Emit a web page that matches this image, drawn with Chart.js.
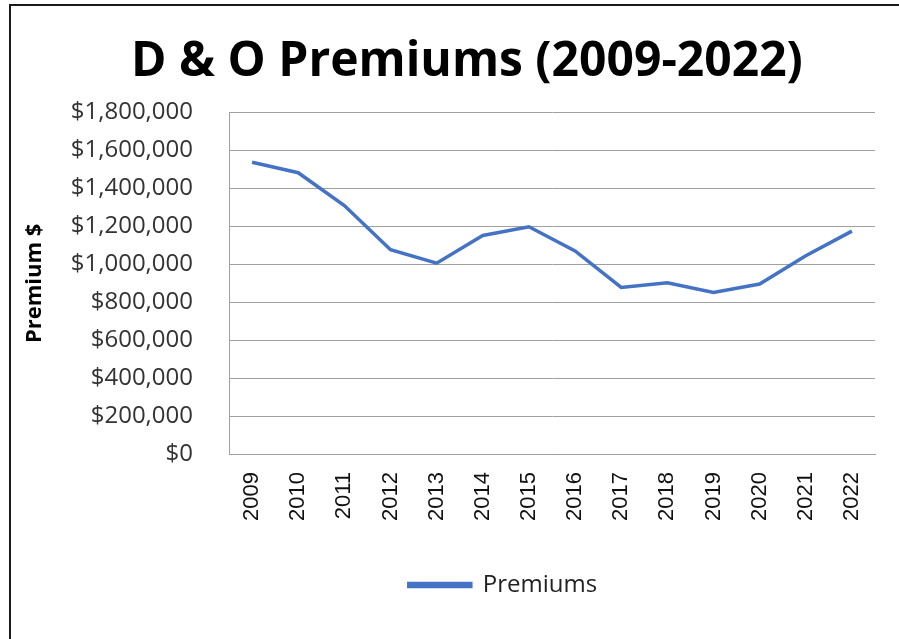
<!DOCTYPE html>
<html>
<head>
<meta charset="utf-8">
<script src="https://cdn.jsdelivr.net/npm/chart.js@4.4.1/dist/chart.umd.min.js"></script>
<style>
  html, body { margin: 0; padding: 0; background: #fff; overflow: hidden; }
  #wrap { position: relative; width: 899px; height: 639px; }
  #frame {
    position: absolute; left: 9px; top: 4px; width: 900px; height: 700px;
    border-left: 2px solid #1a1a1a; border-top: 2px solid #1a1a1a;
    pointer-events: none;
  }
</style>
</head>
<body>
<div id="wrap">
  <canvas id="premiumChart" width="899" height="639"></canvas>
  <div id="frame"></div>
</div>
<script>
// dados
const years = ['2009', '2010', '2011', '2012', '2013', '2014', '2015',
               '2016', '2017', '2018', '2019', '2020', '2021', '2022'];
const premiums = [1538000, 1483000, 1310000, 1077000, 1006000, 1152000, 1198000,
                  1071000, 878000, 903000, 852000, 896000, 1045000, 1175000];
const yMax = 1800000;
const yStep = 200000;

const ctx = document.getElementById('premiumChart').getContext('2d');

// empurra a legenda um pouco para a direita, como no original
const shiftLegend = {
  id: 'shiftLegend',
  afterLayout(chart) {
    if (chart.legend) {
      chart.legend.left += 36;
      chart.legend.right += 36;
    }
  }
};

const config = {
  type: 'line',
  data: {
    labels: years,
    datasets: [{
      label: 'Premiums',
      data: premiums,
      borderColor: '#4472C4',
      backgroundColor: '#4472C4',
      borderWidth: 3.5,
      tension: 0,
      pointRadius: 0,
      fill: false
    }]
  },
  options: {
    responsive: false,
    animation: false,
    devicePixelRatio: 1,
    layout: { padding: { left: 59, right: 24, top: 0, bottom: 32 } },
    plugins: {
      title: {
        display: true,
        text: 'D & O Premiums (2009-2022)',
        color: '#000',
        font: { family: 'Open Sans', size: 48, weight: 'bold' },
        padding: { top: 34, bottom: 21 }
      },
      legend: {
        display: true,
        position: 'bottom',
        labels: {
          color: '#222',
          font: { family: 'Open Sans', size: 24 },
          boxWidth: 62,
          boxHeight: 3,
          padding: 10
        }
      },
      tooltip: { enabled: false }
    },
    scales: {
      x: {
        offset: true,
        grid: { display: false, drawTicks: false },
        border: { display: true, color: '#a0a0a0', width: 1 },
        ticks: {
          color: '#111',
          font: { family: 'Liberation Sans', size: 22 },
          minRotation: 90,
          maxRotation: 90,
          autoSkip: false,
          padding: 18
        },
        afterFit(scale) { scale.height = 109; }
      },
      y: {
        min: 0,
        max: yMax,
        grid: { color: '#a0a0a0', lineWidth: 1, drawTicks: false },
        border: { display: true, color: '#a0a0a0', width: 1 },
        ticks: {
          stepSize: yStep,
          color: '#333',
          font: { family: 'Open Sans', size: 24 },
          padding: 36,
          callback: v => '$' + v.toLocaleString('en-US')
        },
        title: {
          display: true,
          text: 'Premium $',
          color: '#000',
          font: { family: 'Open Sans', size: 22, weight: 'bold' },
          padding: { top: -37, bottom: 0 }
        },
        afterFit(scale) { scale.width = 170; }
      }
    }
  },
  plugins: [shiftLegend]
};

new Chart(ctx, config);
</script>
</body>
</html>
